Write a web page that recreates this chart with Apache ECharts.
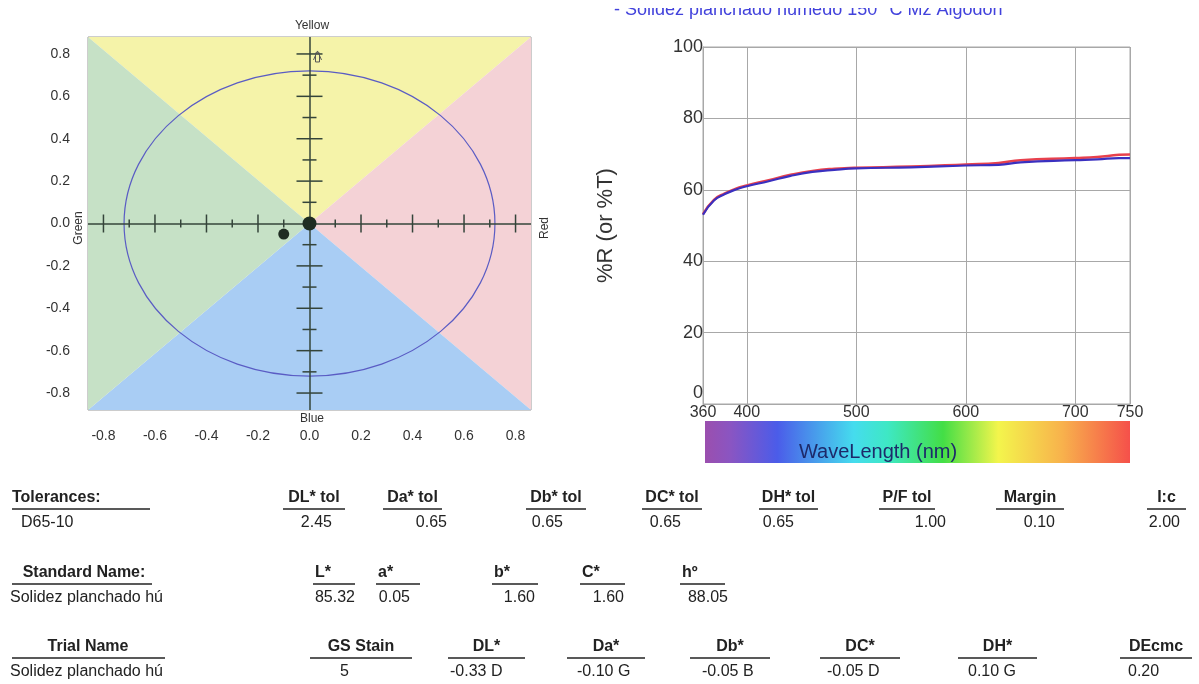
<!DOCTYPE html>
<html lang="es">
<head>
<meta charset="UTF-8">
<title>Solidez planchado</title>
<script src="https://cdn.jsdelivr.net/npm/echarts@6/dist/echarts.min.js"></script>
<style>
  html, body { margin: 0; padding: 0; background: #fff; }
  #main { width: 1199px; height: 684px; }
</style>
</head>
<body>
<div id="main"></div>
<script>
// ---- a*b* difference plot ----
var abTicks = [-0.8, -0.6, -0.4, -0.2, 0, 0.2, 0.4, 0.6, 0.8];
var abCross = [-0.8, -0.7, -0.6, -0.5, -0.4, -0.3, -0.2, -0.1, 0.1, 0.2, 0.3, 0.4, 0.5, 0.6, 0.7, 0.8];
var abXRange = [-0.86, 0.86];
var abYRange = [-0.88, 0.88];
var tolRadius = 0.72;
var standardAB = [0, 0];
var trialAB = [-0.10, -0.05];
var hueNames = ['Yellow', 'Red', 'Blue', 'Green'];

// ---- spectral curve ----
var wavelengths = [360, 370, 380, 390, 400, 420, 440, 460, 480, 500, 550, 600, 630, 650, 700, 720, 740, 750];
var standardR = [53.2, 57.2, 59.0, 60.3, 61.2, 62.7, 64.2, 65.3, 65.9, 66.2, 66.5, 67.1, 67.5, 68.3, 68.9, 69.2, 69.8, 69.9];
var trialR    = [53.0, 57.0, 58.8, 60.1, 61.0, 62.4, 63.9, 65.0, 65.6, 66.0, 66.3, 66.8, 67.0, 67.7, 68.3, 68.5, 68.9, 68.9];
var waveTicks = [360, 400, 500, 600, 700, 750];
var waveGrid = [360, 400, 500, 600, 700, 750];

// ---- tables ----
var tolLabel = 'Tolerances:', tolName = 'D65-10';
var tolHeaders = ['DL* tol', 'Da* tol', 'Db* tol', 'DC* tol', 'DH* tol', 'P/F tol', 'Margin', 'I:c'];
var tolValues = ['2.45', '0.65', '0.65', '0.65', '0.65', '1.00', '0.10', '2.00'];
var stdLabel = 'Standard Name:', stdName = 'Solidez planchado hú';
var stdHeaders = ['L*', 'a*', 'b*', 'C*', 'hº'];
var stdValues = ['85.32', '0.05', '1.60', '1.60', '88.05'];
var trialLabel = 'Trial Name', trialName = 'Solidez planchado hú';
var trialHeaders = ['GS Stain', 'DL*', 'Da*', 'Db*', 'DC*', 'DH*', 'DEcmc'];
var trialValues = ['5', '-0.33 D', '-0.10 G', '-0.05 B', '-0.05 D', '0.10 G', '0.20'];

var FONT = 'Arial, "Liberation Sans", Helvetica, sans-serif';
var hueColors = { Yellow: '#f5f3a9', Red: '#f4d2d6', Blue: '#a9cdf4', Green: '#c6e1c6' };

var myChart = echarts.init(document.getElementById('main'));

// table layout (column positions in px): underline start, underline end, value x
var tolCols = [[283, 345, 332], [383, 442, 447], [526, 586, 563], [642, 702, 681], [759, 818, 794], [879, 935, 946], [996, 1064, 1055], [1147, 1186, 1180]];
var stdCols = [[313, 355, 355], [376, 420, 410], [492, 538, 535], [580, 625, 624], [680, 725, 728]];
var trialCols = [[310, 412, 340], [448, 525, 450], [567, 645, 577], [690, 770, 702], [820, 900, 827], [958, 1037, 968], [1120, 1192, 1128]];

function txt(s, x, y, opt) {
    opt = opt || {};
    return {
        type: 'text', x: x, y: y, silent: true, z: opt.z || 10,
        style: {
            text: s, fill: opt.color || '#222', font: (opt.bold ? 'bold ' : '') + (opt.size || 16) + 'px ' + FONT,
            textAlign: opt.align || 'left', textVerticalAlign: 'middle'
        }
    };
}
function uline(x1, x2, y) {
    return { type: 'line', silent: true, shape: { x1: x1, y1: y, x2: x2, y2: y }, style: { stroke: '#222', lineWidth: 1.5 } };
}

var tableEls = [];
// row 1
tableEls.push(txt(tolLabel, 12, 498, { bold: true }), uline(12, 150, 509), txt(tolName, 21, 523));
tolHeaders.forEach(function (h, i) {
    var c = tolCols[i];
    tableEls.push(txt(h, (c[0] + c[1]) / 2, 498, { bold: true, align: 'center' }), uline(c[0], c[1], 509));
    tableEls.push(txt(tolValues[i], c[2], 523, { align: 'right' }));
});
// row 2
tableEls.push(txt(stdLabel, 84, 573, { bold: true, align: 'center' }), uline(12, 152, 584), txt(stdName, 10, 598));
stdHeaders.forEach(function (h, i) {
    var c = stdCols[i];
    tableEls.push(txt(h, c[0] + 2, 573, { bold: true }), uline(c[0], c[1], 584));
    tableEls.push(txt(stdValues[i], c[2], 598, { align: 'right' }));
});
// row 3
tableEls.push(txt(trialLabel, 88, 647, { bold: true, align: 'center' }), uline(12, 165, 658), txt(trialName, 10, 672));
trialHeaders.forEach(function (h, i) {
    var c = trialCols[i];
    tableEls.push(txt(h, (c[0] + c[1]) / 2, 647, { bold: true, align: 'center' }), uline(c[0], c[1], 658));
    tableEls.push(txt(trialValues[i], c[2], 672));
});

var option = {
    backgroundColor: '#fff',
    animation: false,
    textStyle: { fontFamily: FONT },
    grid: [
        { left: 88, top: 37, width: 443, height: 373, show: true, borderColor: '#9a9a9a', borderWidth: 1, backgroundColor: 'transparent' },
        { left: 703, top: 47, width: 427, height: 357, show: true, borderColor: '#a8a8a8', borderWidth: 1 }
    ],
    xAxis: [
        {
            gridIndex: 0, type: 'value', min: abXRange[0], max: abXRange[1],
            axisLine: { show: false }, axisTick: { show: false, customValues: abTicks }, splitLine: { show: false },
            axisLabel: { customValues: abTicks, fontSize: 14, color: '#333', margin: 19, formatter: function (v) { return v.toFixed(1); } }
        },
        {
            gridIndex: 1, type: 'value', min: 360, max: 750,
            axisLine: { show: true, lineStyle: { color: '#a8a8a8' } },
            axisTick: { show: false, customValues: waveGrid },
            splitLine: { show: true, lineStyle: { color: '#a8a8a8', width: 1 } },
            axisLabel: { customValues: waveTicks, fontSize: 16, color: '#333', margin: 1 }
        }
    ],
    yAxis: [
        {
            gridIndex: 0, type: 'value', min: abYRange[0], max: abYRange[1],
            axisLine: { show: false }, axisTick: { show: false, customValues: abTicks }, splitLine: { show: false },
            axisLabel: { customValues: abTicks, fontSize: 14, color: '#333', margin: 18, formatter: function (v) { return v.toFixed(1); } }
        },
        {
            gridIndex: 1, type: 'value', min: 0, max: 100, interval: 20,
            axisLine: { show: true, lineStyle: { color: '#a8a8a8' } },
            axisTick: { show: false },
            splitLine: { show: true, lineStyle: { color: '#a8a8a8', width: 1 } },
            axisLabel: {
                fontSize: 18, color: '#333', margin: 0,
                formatter: function (v) { return v === 0 ? '{low|0}' : v; },
                rich: { low: { fontSize: 18, color: '#333', padding: [0, 0, 22, 0] } }
            },
            name: '%R (or %T)', nameLocation: 'middle', nameGap: 86,
            nameTextStyle: { fontSize: 22, color: '#333' }
        }
    ],
    series: [
        {
            type: 'custom', xAxisIndex: 0, yAxisIndex: 0, z: 1, silent: true,
            data: hueNames.map(function (n, i) { return [i, 0]; }),
            renderItem: function (params, api) {
                var x0 = abXRange[0], x1 = abXRange[1], y0 = abYRange[0], y1 = abYRange[1];
                var corners = [[[x0, y1], [x1, y1]], [[x1, y1], [x1, y0]], [[x1, y0], [x0, y0]], [[x0, y0], [x0, y1]]][params.dataIndex];
                var pts = [api.coord([0, 0]), api.coord(corners[0]), api.coord(corners[1])];
                return { type: 'polygon', shape: { points: pts }, style: { fill: hueColors[hueNames[params.dataIndex]] } };
            }
        },
        {
            type: 'custom', xAxisIndex: 0, yAxisIndex: 0, z: 3, silent: true,
            data: abCross.map(function (v) { return [v, 0]; }),
            renderItem: function (params, api) {
                var v = api.value(0);
                var major = Math.round(Math.abs(v) * 10) % 2 === 0;
                var px = api.coord([v, 0]);
                var py = api.coord([0, v]);
                var hx = major ? 9 : 4, hy = major ? 13 : 7;
                var st = { stroke: '#34443a', lineWidth: 1.5 };
                var kids = [
                    { type: 'line', shape: { x1: px[0], y1: px[1] - hx, x2: px[0], y2: px[1] + hx }, style: st },
                    { type: 'line', shape: { x1: py[0] - hy, y1: py[1], x2: py[0] + hy, y2: py[1] }, style: st }
                ];
                if (v === abCross[abCross.length - 1]) {
                    // small up arrow at the top of the b* axis
                    kids.push({ type: 'polyline', shape: { points: [[py[0] + 4, py[1] + 6], [py[0] + 8, py[1] - 3], [py[0] + 12, py[1] + 6]] }, style: { stroke: '#555', lineWidth: 1, fill: null } });
                    kids.push({ type: 'rect', shape: { x: py[0] + 6, y: py[1] - 1, width: 4, height: 9 }, style: { stroke: '#555', lineWidth: 1, fill: null } });
                }
                return { type: 'group', children: kids };
            }
        },
        {
            type: 'custom', xAxisIndex: 0, yAxisIndex: 0, z: 4, silent: true,
            data: [[standardAB[0], standardAB[1], tolRadius]],
            renderItem: function (params, api) {
                var c = api.coord([api.value(0), api.value(1)]);
                var s = api.size([api.value(2), api.value(2)]);
                return { type: 'ellipse', shape: { cx: c[0], cy: c[1], rx: s[0], ry: s[1] }, style: { fill: null, stroke: '#5a5cc4', lineWidth: 1.2 } };
            }
        },
        {
            type: 'scatter', xAxisIndex: 0, yAxisIndex: 0, z: 5, silent: true,
            data: [
                { value: standardAB, symbolSize: 14 },
                { value: trialAB, symbolSize: 11 }
            ],
            itemStyle: { color: '#1f2d22', opacity: 1 },
            markLine: {
                silent: true, symbol: 'none', animation: false,
                label: { show: false },
                lineStyle: { color: '#34443a', width: 1.5, type: 'solid' },
                data: [{ xAxis: 0 }, { yAxis: 0 }]
            }
        },
        {
            name: 'Standard', type: 'line', xAxisIndex: 1, yAxisIndex: 1, smooth: true, showSymbol: false,
            data: wavelengths.map(function (w, i) { return [w, standardR[i]]; }),
            lineStyle: { color: '#e8414d', width: 2.5 }, itemStyle: { color: '#e8414d' }, z: 2
        },
        {
            name: 'Trial', type: 'line', xAxisIndex: 1, yAxisIndex: 1, smooth: true, showSymbol: false,
            data: wavelengths.map(function (w, i) { return [w, trialR[i]]; }),
            lineStyle: { color: '#3a30c0', width: 2.2 }, itemStyle: { color: '#3a30c0' }, z: 3
        }
    ],
    graphic: [
        txt('Yellow', 312, 26, { size: 12, align: 'center', color: '#333' }),
        txt('Blue', 312, 419, { size: 12, align: 'center', color: '#333' }),
        {
            type: 'text', x: 79, y: 228, rotation: Math.PI / 2, silent: true,
            style: { text: 'Green', font: '12px ' + FONT, fill: '#333', textAlign: 'center', textVerticalAlign: 'middle' }
        },
        {
            type: 'text', x: 545, y: 228, rotation: Math.PI / 2, silent: true,
            style: { text: 'Red', font: '12px ' + FONT, fill: '#333', textAlign: 'center', textVerticalAlign: 'middle' }
        },
        // legend line at the very top, cut off by the top edge in the source
        txt('- Solidez planchado húmedo 150° C Mz Algodón', 614, 10, { size: 18, color: '#4242dc', z: 10 }),
        { type: 'rect', left: 600, top: 0, silent: true, z: 11, shape: { width: 430, height: 8 }, style: { fill: '#fff' } },
        {
            type: 'rect', left: 705, top: 421, silent: true,
            shape: { width: 425, height: 42 },
            style: {
                fill: new echarts.graphic.LinearGradient(0, 0, 1, 0, [
                    { offset: 0, color: '#9b4fae' },
                    { offset: 0.06, color: '#8a55c2' },
                    { offset: 0.17, color: '#4b5ce9' },
                    { offset: 0.35, color: '#45dcee' },
                    { offset: 0.43, color: '#3ee8c4' },
                    { offset: 0.56, color: '#43de46' },
                    { offset: 0.69, color: '#f3f54c' },
                    { offset: 0.84, color: '#f8b24c' },
                    { offset: 1, color: '#f5504a' }
                ])
            }
        },
        txt('WaveLength (nm)', 878, 452, { size: 20, align: 'center', color: '#1d2a6a' })
    ].concat(tableEls)
};
myChart.setOption(option);
</script>
</body>
</html>
